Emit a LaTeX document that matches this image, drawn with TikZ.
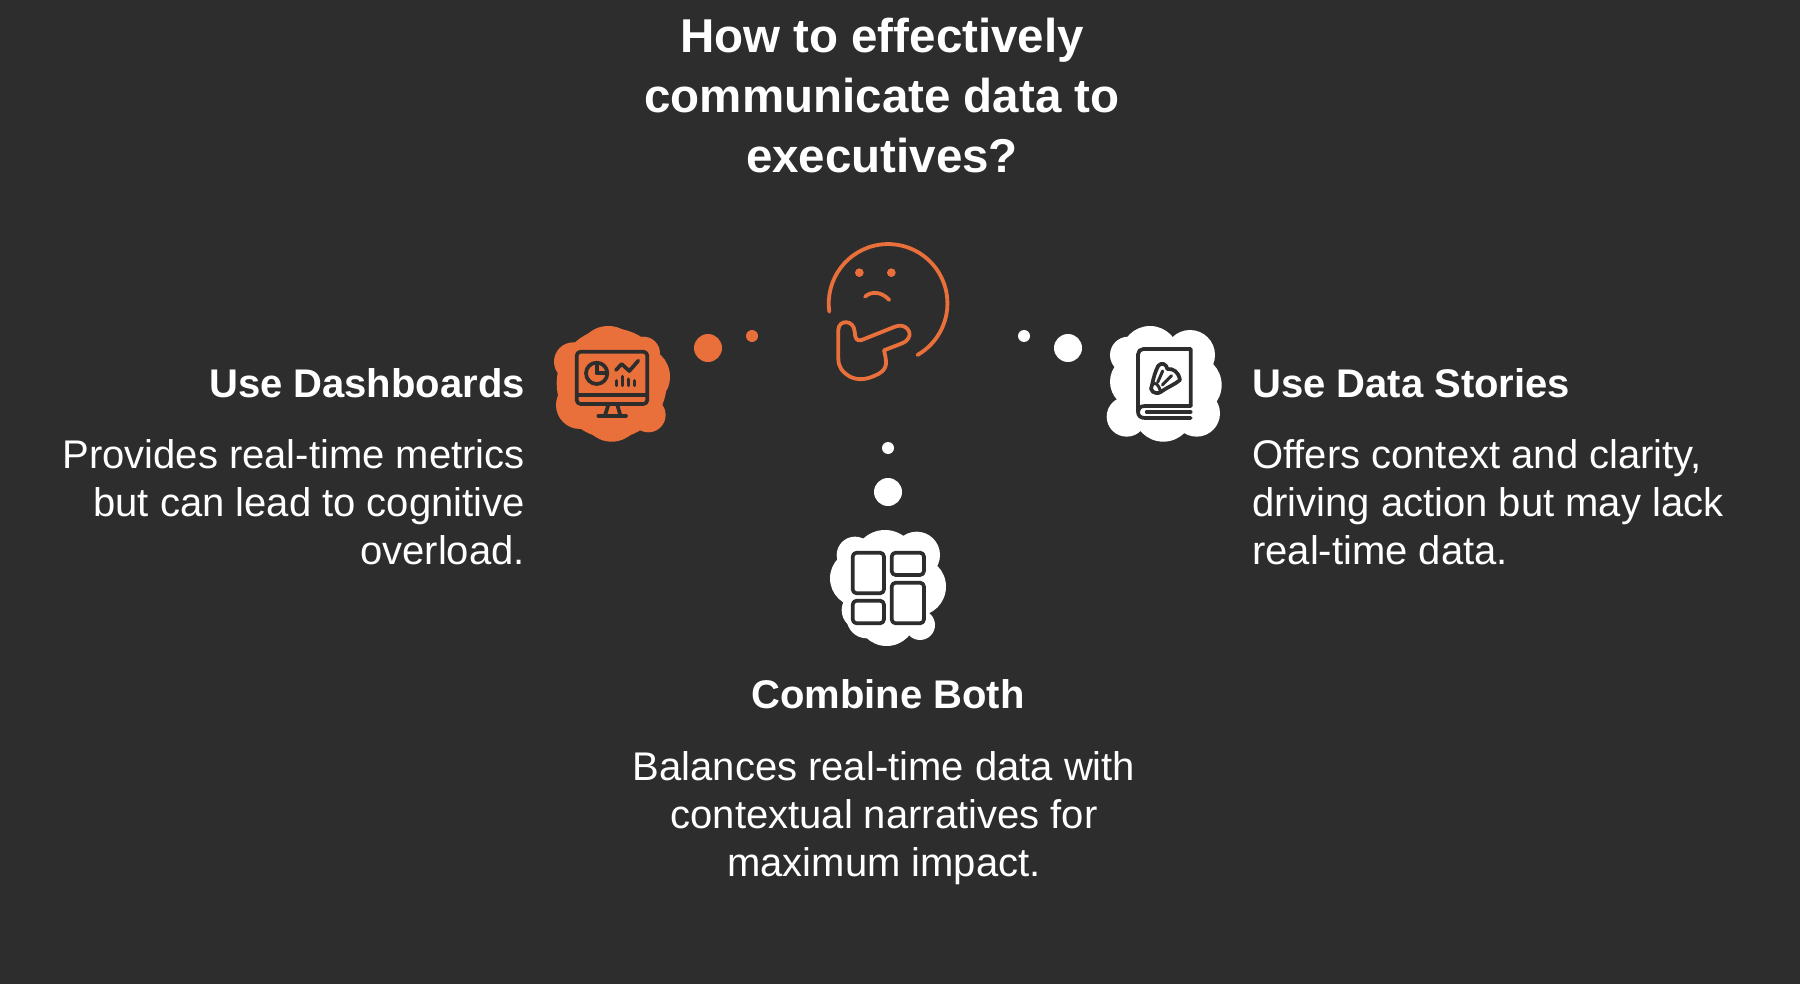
\documentclass[tikz,border=0pt]{standalone}
\usepackage{fontspec}
\setmainfont{Liberation Sans}
\definecolor{bgc}{HTML}{2D2D2D}
\definecolor{orng}{HTML}{E9703A}
\tikzset{
  bodytxt/.style={text=white,inner sep=0pt,font=\fontsize{40}{48}\selectfont},
  headtxt/.style={text=white,inner sep=0pt,font=\fontsize{40}{48}\selectfont\bfseries},
  titletxt/.style={text=white,inner sep=0pt,align=center,font=\fontsize{47.5}{60}\selectfont\bfseries},
  bigdot/.style={circle,inner sep=0pt,minimum size=28pt,fill=#1},
  smalldot/.style={circle,inner sep=0pt,minimum size=12pt,fill=#1},
  ico/.style={draw=bgc,line width=3.7pt,line cap=round,line join=round},
  face/.style={draw=orng,line width=3.8pt,line cap=round,line join=round}
}
\newcommand{\circs}[2]{\foreach \a/\b/\r in {#2} {\fill[#1] (\a,\b) circle[radius=\r];}}
\begin{document}
\begin{tikzpicture}[x=1pt,y=-1pt]
\useasboundingbox (0,0) rectangle (1800,984);
\fill[bgc] (0,0) rectangle (1800,984);

% title
\node[titletxt,anchor=base] (title) at (882,173) {How to effectively\\communicate data to\\executives?};

% thinking face
\begin{scope}[shift={(780,220)},scale=1/3]
  \draw[face] (148,275) arc[start angle=172,end angle=420.4,radius=178];
  \fill[orng] (238,158) circle[radius=13] (334,158) circle[radius=13];
  \draw[face] (255,230) .. controls (275,212) and (305,215) .. (328,240);
  \draw[face] (175,330) .. controls (175,298) and (222,298) .. (224,335)
     .. controls (225,355) and (230,365) .. (245,360)
     -- (345,320) .. controls (375,308) and (398,335) .. (385,355)
     .. controls (378,368) and (365,370) .. (312,391)
     .. controls (320,425) and (325,445) .. (295,462)
     .. controls (260,480) and (235,482) .. (210,470)
     .. controls (185,455) and (175,440) .. (175,415) -- cycle;
\end{scope}

% connector dots
\node[bigdot=orng] (dl1) at (708,348) {};
\node[smalldot=orng] (dl2) at (752,336) {};
\node[smalldot=white] (dr2) at (1024,336) {};
\node[bigdot=white] (dr1) at (1068,348) {};
\node[smalldot=white] (db2) at (888,448) {};
\node[bigdot=white] (db1) at (888,492) {};

% dashboards icon
\begin{scope}[shift={(540,310)},scale=1/3]
  \circs{orng}{215/220/165,205/140/92,310/130/50,100/155/58,120/285/72,325/315/52,300/200/90,215/305/90}
  \draw[ico] (122,125) -- (310,125) arc[start angle=-90,end angle=0,radius=12] -- (322,270) arc[start angle=0,end angle=90,radius=12] -- (122,282) arc[start angle=90,end angle=180,radius=12] -- (110,137) arc[start angle=180,end angle=270,radius=12] -- cycle;
  \draw[ico] (110,255) -- (322,255);
  \draw[ico] (205,285) -- (195,316) (232,285) -- (241,316);
  \draw[ico] (175,317) -- (258,317);
  \draw[ico] (170,190) circle[radius=32];
  \draw[ico,line cap=butt] (170,158) -- (170,190) -- (202,190);
  \draw[ico] (228,180) -- (245,162) -- (268,183) -- (295,152);
  \draw[ico,line width=3pt] (229,212) -- (229,227) (247,199) -- (247,227) (265,207) -- (265,227) (283,212) -- (283,227);
\end{scope}

% data stories icon
\begin{scope}[shift={(1000,310)},scale=1/3]
  \circs{white}{385/135/55,450/135/87,570/135/75,575/225/90,590/310/70,490/305/90,380/320/60,410/215/80}
  \draw[ico] (572,288) -- (572,117) -- (430,117) arc[start angle=-90,end angle=-180,radius=16] -- (414,305);
  \draw[ico] (572,288) -- (435,288) .. controls (420,288) and (414,296) .. (414,305) .. controls (414,318) and (422,324) .. (435,324) -- (572,324);
  \draw[ico] (440,306) -- (572,306);
\end{scope}
\begin{scope}[shift={(1145,355)},scale=1/3]
  \draw[ico] (21,90) .. controls (25,70) and (32,45) .. (40,32) .. controls (50,20) and (65,28) .. (67,42)
     .. controls (85,40) and (100,50) .. (105,75) .. controls (90,88) and (70,95) .. (47,111)
     .. controls (30,122) and (10,105) .. (21,90) -- cycle;
  \draw[ico,line width=3pt] (21,90) .. controls (30,80) and (40,85) .. (47,111);
  \draw[ico,line width=3pt] (38,82) -- (53,48) (52,90) -- (80,62);
\end{scope}

% combine both icon
\begin{scope}[shift={(810,430)},scale=1/3]
  \circs{white}{135/375/55,225/395/95,320/375/70,145/445/85,320/470/88,155/540/60,170/565/60,230/560/88,330/585/45}
  \draw[ico,rounded corners=4pt] (128,368) rectangle (222,490);
  \draw[ico,rounded corners=4pt] (245,368) rectangle (342,435);
  \draw[ico,rounded corners=4pt] (128,512) rectangle (222,580);
  \draw[ico,rounded corners=4pt] (245,458) rectangle (342,580);
\end{scope}

% texts
\node[headtxt,anchor=base east] (h1) at (525,397) {Use Dashboards};
\node[bodytxt,align=right,anchor=base east] (b1) at (525,564) {Provides real-time metrics\\but can lead to cognitive\\overload.};
\node[headtxt,anchor=base west] (h2) at (1252,397) {Use Data Stories};
\node[bodytxt,align=left,anchor=base west] (b2) at (1252,564) {Offers context and clarity,\\driving action but may lack\\real-time data.};
\node[headtxt,anchor=base] (h3) at (888,708) {Combine Both};
\node[bodytxt,align=center,anchor=base] (b3) at (884,876) {Balances real-time data with\\contextual narratives for\\maximum impact.};
\end{tikzpicture}
\end{document}
